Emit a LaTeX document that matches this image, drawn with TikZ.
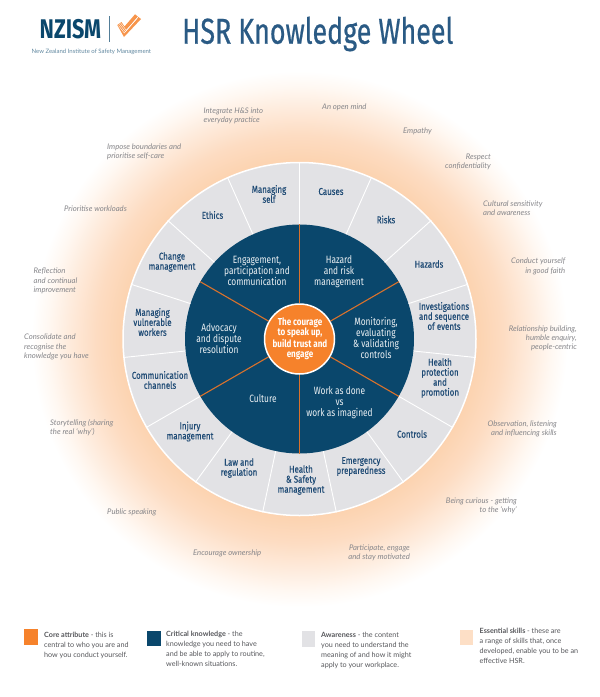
\documentclass[tikz,border=0pt]{standalone}
\usepackage{fontspec}
\setmainfont{Lato}
\newfontfamily\titlefont[FakeStretch=0.745,FakeBold=0.6]{Fira Sans}
\newfontfamily\lblfont[FakeStretch=0.80,FakeBold=0.35]{Fira Sans}
\newfontfamily\darkfont[FakeStretch=0.79]{Fira Sans}
\newfontfamily\corefont[FakeStretch=0.80]{Fira Sans Bold}
\newfontfamily\logofont[FakeStretch=0.80]{Fira Sans Bold}
\definecolor{navy}{HTML}{0A476C}
\definecolor{ringgray}{HTML}{E2E2E5}
\definecolor{coreorange}{HTML}{F6822B}
\definecolor{spoke}{HTML}{D9722C}
\definecolor{peach}{HTML}{FDDFC6}
\definecolor{glowa}{HTML}{FCD3B0}
\definecolor{glowb}{HTML}{FDDCC2}
\definecolor{glowc}{HTML}{FEEBDC}
\definecolor{glowd}{HTML}{FFF8F2}
\definecolor{lblblue}{HTML}{1F4B75}
\definecolor{titleblue}{HTML}{2A5A84}
\definecolor{skillgray}{HTML}{86868A}
\definecolor{legendtext}{HTML}{55565A}
% the path's bounding box spans 25bp of radius: 25bp = 268 here
\pgfdeclareradialshading{glow}{\pgfpoint{0bp}{0bp}}{%
 color(0bp)=(glowa);
 color(16.5bp)=(glowa);
 color(19bp)=(glowb);
 color(21.5bp)=(glowc);
 color(23.5bp)=(glowd);
 color(25bp)=(white);
 color(50bp)=(white)}
\tikzset{
 graylbl/.style={align=center,inner sep=0pt,text=lblblue,font=\lblfont\fontsize{9.9}{10}\selectfont},
 darklbl/.style={align=center,inner sep=0pt,text=white!92!navy,font=\darkfont\fontsize{10.6}{11}\selectfont},
 corelbl/.style={align=center,inner sep=0pt,text=white,font=\corefont\fontsize{10.1}{10}\selectfont},
 skillL/.style={anchor=west,align=left,inner sep=0pt,text=skillgray,font=\itshape\fontsize{7.7}{9.3}\selectfont},
 skillR/.style={anchor=east,align=right,inner sep=0pt,text=skillgray,font=\itshape\fontsize{7.7}{9.3}\selectfont},
 legendtxt/.style={anchor=west,align=left,inner sep=0pt,text=legendtext,font=\fontsize{7.2}{10}\selectfont},
 wheelcirc/.style={circle,inner sep=0pt},
}
\begin{document}
\begin{tikzpicture}[x=1pt,y=-1pt]
\useasboundingbox (0,0) rectangle (600,697);
% glow
\shade[shading=glow] (299.5,339) circle[radius=268];
% wheel
\node[wheelcirc,fill=ringgray,draw=white,line width=1.5pt,minimum size=353pt] (ring) at (299.5,339) {};
\node[wheelcirc,fill=navy,minimum size=229pt] (dark) at (299.5,339) {};
\foreach \a in {66,42,18,354,330,306,282,258,234,210,186,162,138,114,90}
  \draw[white,line width=0.9pt] (dark.\a) -- (ring.\a);
\node[wheelcirc,fill=coreorange,draw=white,line width=1.5pt,minimum size=70pt] (core) at (299.5,339) {};
\foreach \a in {90,30,330,270,210,150}
  \draw[spoke,line width=1.1pt] (core.\a) -- (dark.\a);
% core
\node[corelbl] (coretxt) at (300,339) {The courage\\to speak up,\\build trust and\\engage};
% dark labels
\node[darklbl] (d1) at (257,271) {Engagement,\\participation and\\communication};
\node[darklbl] (d2) at (339,272) {Hazard\\and risk\\management};
\node[darklbl] (d3) at (376,338) {Monitoring,\\evaluating\\\&\ validating\\controls};
\node[darklbl] (d4) at (339.5,403) {Work as done\\vs\\work as imagined};
\node[darklbl] (d5) at (263,399) {Culture};
\node[darklbl] (d6) at (219,339) {Advocacy\\and dispute\\resolution};
% grey labels
\node[graylbl] (g1) at (331,191.5) {Causes};
\node[graylbl] (g2) at (386,219.5) {Risks};
\node[graylbl] (g3) at (429,264) {Hazards};
\node[graylbl] (g4) at (444,316) {Investigations\\and sequence\\of events};
\node[graylbl] (g5) at (440,378) {Health\\protection\\and\\promotion};
\node[graylbl] (g6) at (412,434) {Controls};
\node[graylbl] (g7) at (361,466.5) {Emergency\\preparedness};
\node[graylbl] (g8) at (301,480) {Health\\\&\ Safety\\management};
\node[graylbl] (g9) at (239,468) {Law and\\regulation};
\node[graylbl] (g10) at (190,431.5) {Injury\\management};
\node[graylbl] (g11) at (160,380) {Communication\\channels};
\node[graylbl] (g12) at (152.5,322) {Managing\\vulnerable\\workers};
\node[graylbl] (g13) at (172,262) {Change\\management};
\node[graylbl] (g14) at (212.5,215) {Ethics};
\node[graylbl] (g15) at (269,194) {Managing\\self};
% skills
\node[skillL] (s1) at (203.5,115.5) {Integrate H\&S into\\everyday practice};
\node[skillL] (s2) at (322,107.7) {An open mind};
\node[skillL] (s3) at (403,131) {Empathy};
\node[skillR] (s4) at (491,162) {Respect\\confidentiality};
\node[skillL] (s5) at (483,208) {Cultural sensitivity\\and awareness};
\node[skillR] (s6) at (565.5,266.5) {Conduct yourself\\in good faith};
\node[skillR] (s7) at (577,338.5) {Relationship building,\\humble enquiry,\\people-centric};
\node[skillR] (s8) at (557,429) {Observation, listening\\and influencing skills};
\node[skillR] (s9) at (517,505.5) {Being curious - getting\\to the `why'};
\node[skillR] (s10) at (410,553) {Participate, engage\\and stay motivated};
\node[skillL] (s11) at (193,553) {Encourage ownership};
\node[skillL] (s12) at (107,512.7) {Public speaking};
\node[skillL] (s13) at (50,428) {Storytelling (sharing\\the real `why')};
\node[skillL] (s14) at (24,347) {Consolidate and\\recognise the\\knowledge you have};
\node[skillL] (s15) at (33.5,281) {Reflection\\and continual\\improvement};
\node[skillL] (s16) at (64,208.7) {Prioritise workloads};
\node[skillL] (s17) at (107,151.5) {Impose boundaries and\\prioritise self-care};
% legend
\fill[coreorange] (24,629) rectangle (37.5,644.5);
\fill[navy] (147,631) rectangle (160.5,646);
\fill[ringgray] (302,631) rectangle (315,647);
\fill[peach] (460,630) rectangle (473,645);
\node[legendtxt] (l1) at (44,645) {\textbf{Core attribute} - this is\\central to who you are and\\how you conduct yourself.};
\node[legendtxt] (l2) at (166,649) {\textbf{Critical knowledge} - the\\knowledge you need to have\\and be able to apply to routine,\\well-known situations.};
\node[legendtxt] (l3) at (321,650) {\textbf{Awareness} - the content\\you need to understand the\\meaning of and how it might\\apply to your workplace.};
\node[legendtxt] (l4) at (479.5,646) {\textbf{Essential skills} - these are\\a range of skills that, once\\developed, enable you to be an\\effective HSR.};
% title
\node[anchor=west,inner sep=0pt,text=titleblue,font=\titlefont\fontsize{36}{36}\selectfont] (title) at (182,34) {HSR Knowledge Wheel};
% logo
\node[anchor=west,inner sep=0pt,text=navy,font=\logofont\fontsize{27}{27}\selectfont] (logo) at (39.5,29.5) {NZISM};
\draw[navy!70,line width=0.5pt] (109.6,16) -- (109.6,42);
\fill[coreorange!85!white] (117.3,25) -- (124,37) -- (141,19) -- (135,14.3) -- (124.5,26.5) -- (121.5,22) -- cycle;
\foreach \d in {0,1.8,3.6}
  \draw[white,line width=0.35pt] (118.5+\d*.55,25.5-\d*.75) -- (124.3+\d*.55,33+\d*-.75) -- (138.5+\d*.55-1.5,17.5-\d*.75+1);
\node[anchor=west,inner sep=0pt,text=navy!65,font=\fontsize{6}{6}\selectfont] (logosub) at (31.5,52) {New Zealand Institute of Safety Management};
\end{tikzpicture}
\end{document}
